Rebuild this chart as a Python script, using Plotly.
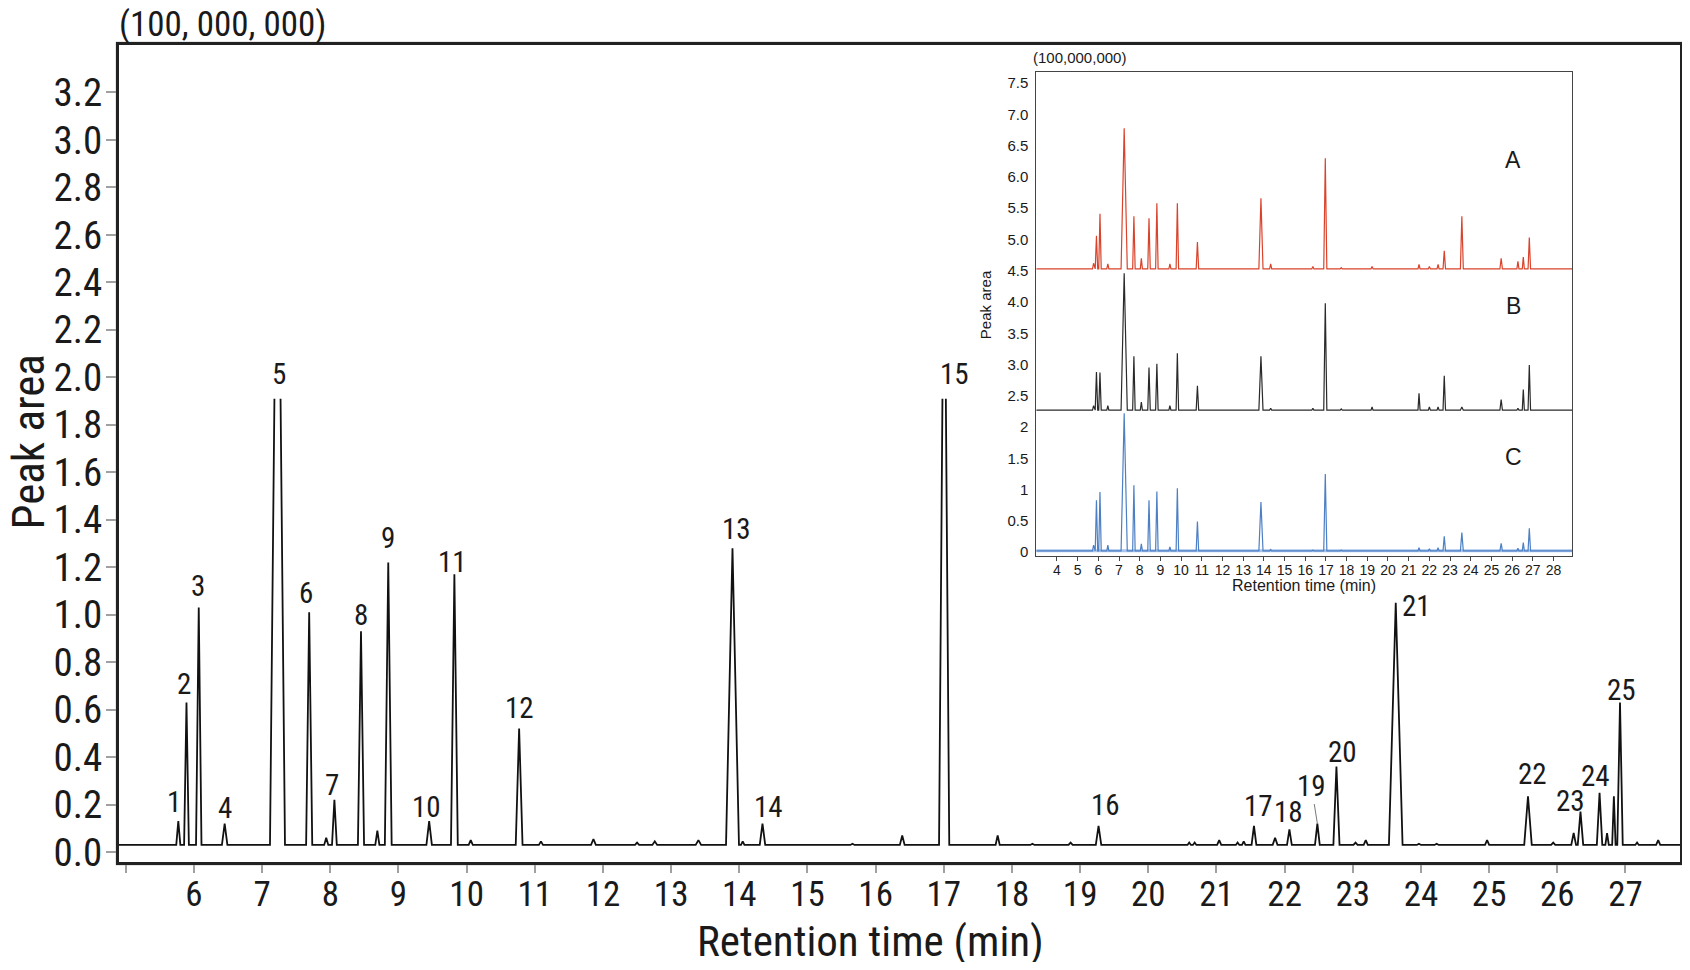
import plotly.graph_objects as go

# main chromatogram: peaks (retention time, apex height, base width)
peak_rt = [5.77, 5.89, 6.07, 6.45, 7.225, 7.69, 7.94, 8.06, 8.45, 8.69, 8.85, 9.45, 9.82,
           10.06, 10.77, 11.09, 11.86, 12.50, 12.76, 13.40, 13.90, 14.05, 14.34, 15.66,
           16.39, 17.005, 17.79, 18.30, 18.86, 19.27, 20.60, 20.68, 21.04, 21.31, 21.40,
           21.55, 21.86, 22.07, 22.48, 22.76, 23.04, 23.19, 23.63, 23.97, 24.23, 24.97,
           25.57, 25.94, 26.24, 26.34, 26.62, 26.73, 26.83, 26.92, 27.17, 27.48]
peak_height = [0.13, 0.63, 1.03, 0.12, 1.91, 1.01, 0.06, 0.22, 0.93, 0.09, 1.22, 0.13, 1.17,
               0.05, 0.52, 0.045, 0.055, 0.04, 0.045, 0.05, 1.28, 0.045, 0.12, 0.035,
               0.07, 1.91, 0.07, 0.035, 0.04, 0.11, 0.04, 0.04, 0.05, 0.04, 0.045,
               0.11, 0.06, 0.095, 0.12, 0.36, 0.04, 0.05, 1.05, 0.035, 0.035, 0.05,
               0.235, 0.04, 0.08, 0.17, 0.25, 0.08, 0.235, 0.63, 0.04, 0.05]
peak_width = [0.06, 0.07, 0.08, 0.08, 0.22, 0.09, 0.06, 0.07, 0.09, 0.06, 0.10, 0.08, 0.10,
              0.06, 0.10, 0.06, 0.07, 0.06, 0.07, 0.08, 0.19, 0.05, 0.08, 0.06,
              0.07, 0.15, 0.06, 0.06, 0.06, 0.08, 0.05, 0.05, 0.06, 0.05, 0.05,
              0.07, 0.07, 0.07, 0.07, 0.09, 0.06, 0.06, 0.20, 0.06, 0.06, 0.06,
              0.11, 0.06, 0.07, 0.08, 0.08, 0.05, 0.05, 0.08, 0.05, 0.06]
peak_no = [1, 2, 3, 4, 5, 6, 0, 7, 8, 0, 9, 10, 11,
           0, 12, 0, 0, 0, 0, 0, 13, 0, 14, 0,
           0, 15, 0, 0, 0, 16, 0, 0, 0, 0, 0,
           17, 0, 18, 19, 20, 0, 0, 21, 0, 0, 0,
           22, 0, 0, 23, 24, 0, 0, 25, 0, 0]
# saturated peaks whose tops are cut off, with the width left open at the top
clipped_top = {5: 0.09, 15: 0.05}
baseline = 0.03
run_start, run_end = 4.9, 27.8

y_ticks = [0.0, 0.2, 0.4, 0.6, 0.8, 1.0, 1.2, 1.4, 1.6, 1.8, 2.0, 2.2, 2.4, 2.6, 2.8, 3.0, 3.2]
x_ticks = list(range(5, 28))

# inset: three samples A, B, C stacked on one axis
ins_rt = [5.77, 5.91, 6.08, 6.46, 7.25, 7.72, 8.08, 8.45, 8.83, 9.46, 9.82, 10.79, 13.86,
          14.33, 16.37, 16.97, 17.74, 19.23, 21.50, 22.00, 22.42, 22.72, 23.57, 25.47,
          26.28, 26.54, 26.83]
ins_width = [0.10, 0.12, 0.12, 0.10, 0.30, 0.12, 0.10, 0.12, 0.12, 0.10, 0.12, 0.12, 0.20,
             0.10, 0.10, 0.15, 0.10, 0.10, 0.10, 0.10, 0.10, 0.12, 0.14, 0.12,
             0.10, 0.10, 0.12]
a_height = [4.62, 5.06, 5.41, 4.61, 6.78, 5.37, 4.70, 5.34, 5.58, 4.61, 5.58, 4.96, 5.66,
            4.61, 4.57, 6.30, 4.55, 4.57, 4.60, 4.57, 4.60, 4.82, 5.37, 4.70,
            4.65, 4.72, 5.03]
b_height = [2.34, 2.88, 2.87, 2.34, 4.46, 3.13, 2.40, 2.95, 3.01, 2.34, 3.18, 2.66, 3.13,
            2.30, 2.30, 3.98, 2.29, 2.32, 2.54, 2.32, 2.32, 2.82, 2.32, 2.44,
            2.30, 2.60, 2.99]
c_height = [0.11, 0.83, 0.96, 0.11, 2.22, 1.07, 0.13, 0.83, 0.97, 0.08, 1.02, 0.49, 0.80,
            0.04, 0.03, 1.25, 0.03, 0.03, 0.07, 0.05, 0.07, 0.25, 0.31, 0.14,
            0.06, 0.15, 0.38]
a_base, b_base, c_base = 4.53, 2.27, 0.02
ins_start, ins_end = 3.0, 28.9

ins_y_ticks = [0, 0.5, 1, 1.5, 2, 2.5, 3.0, 3.5, 4.0, 4.5, 5.0, 5.5, 6.0, 6.5, 7.0, 7.5]
ins_y_text = ["0", "0.5", "1", "1.5", "2", "2.5", "3.0", "3.5", "4.0", "4.5",
              "5.0", "5.5", "6.0", "6.5", "7.0", "7.5"]
ins_x_ticks = list(range(4, 29))


def chromatogram(rts, heights, widths, base, start, end, nos=None, clipped=None):
    # one polyline: baseline, then each peak as foot - apex - foot
    xs, ys = [start], [base]
    for i, (rt, h, w) in enumerate(zip(rts, heights, widths)):
        no = nos[i] if nos else 0
        if clipped and no in clipped:
            tw = clipped[no]
            xs += [rt - w / 2, rt - tw / 2, None, rt + tw / 2, rt + w / 2]
            ys += [base, h, None, h, base]
        else:
            xs += [rt - w / 2, rt, rt + w / 2]
            ys += [base, h, base]
    xs.append(end)
    ys.append(base)
    return xs, ys


NARROW = "Roboto Condensed, Liberation Sans Narrow, Arial Narrow, sans-serif"
REG = "Liberation Sans, Arial, sans-serif"
INK = "#1a1a1a"

fig = go.Figure()

mx, my = chromatogram(peak_rt, peak_height, peak_width, baseline, run_start, run_end,
                      peak_no, clipped_top)
fig.add_trace(go.Scatter(x=mx, y=my, mode="lines", line=dict(color="#111111", width=1.8),
                         showlegend=False, hoverinfo="skip"))

# inset traces
for heights, base, color in [(a_height, a_base, "#d9432b"),
                             (b_height, b_base, "#2a2a2a"),
                             (c_height, c_base, "#4d7fc4")]:
    if base == c_base:
        fig.add_trace(go.Scatter(x=[ins_start, ins_end], y=[base, base], mode="lines",
                                 line=dict(color="#a9c5ea", width=3), xaxis="x2", yaxis="y2",
                                 showlegend=False, hoverinfo="skip"))
    ix, iy = chromatogram(ins_rt, heights, ins_width, base, ins_start, ins_end)
    fig.add_trace(go.Scatter(x=ix, y=iy, mode="lines", line=dict(color=color, width=1.2),
                             xaxis="x2", yaxis="y2", showlegend=False, hoverinfo="skip"))

# peak number labels (pixel offsets from the apex)
label_offset = {1: (-4, 19), 2: (-2, 18), 3: (-1, 22), 4: (0, 16), 5: (2, 25), 6: (-3, 19),
                7: (-2, 15), 8: (0, 16), 9: (0, 24), 10: (-3, 14), 11: (-2, 12), 12: (0, 21),
                13: (4, 19), 14: (6, 17), 15: (10, 25), 16: (7, 21), 17: (5, 20),
                18: (-1, 17), 20: (6, 15), 21: (21, -3), 22: (5, 22), 23: (-10, 11),
                24: (-4, 17), 25: (1, 12)}
for rt, h, no in zip(peak_rt, peak_height, peak_no):
    if no == 0:
        continue
    if no == 19:
        fig.add_annotation(x=rt, y=h, text=str(no), showarrow=True, ax=-6, ay=-38,
                           arrowhead=0, arrowwidth=0.8, arrowcolor="#555555",
                           font=dict(family=NARROW, size=29, color=INK))
        continue
    dx, dy = label_offset[no]
    fig.add_annotation(x=rt, y=h, text=str(no), showarrow=False, xshift=dx, yshift=dy,
                       font=dict(family=NARROW, size=29, color=INK))

# titles and units
fig.add_annotation(xref="paper", yref="paper", x=-0.0013, y=1.0245, xanchor="left",
                   yanchor="middle", text="(100, 000, 000)", showarrow=False,
                   font=dict(family=NARROW, size=35, color=INK))
fig.add_annotation(xref="paper", yref="paper", x=-0.058, y=0.514, xanchor="center",
                   yanchor="middle", textangle=-90, text="Peak area", showarrow=False,
                   font=dict(family=NARROW, size=45, color=INK))
fig.add_annotation(xref="paper", yref="paper", x=0.4815, y=-0.097, xanchor="center",
                   yanchor="middle", text="Retention time (min)", showarrow=False,
                   font=dict(family=NARROW, size=43, color=INK))

fig.add_annotation(xref="x2 domain", yref="y2 domain", x=-0.0093, y=1.029, xanchor="left",
                   yanchor="middle", text="(100,000,000)", showarrow=False,
                   font=dict(family=REG, size=15, color=INK))
fig.add_annotation(xref="x2 domain", yref="y2 domain", x=-0.095, y=0.519, xanchor="center",
                   yanchor="middle", textangle=-90, text="Peak area", showarrow=False,
                   font=dict(family=REG, size=15, color=INK))
fig.add_annotation(xref="x2 domain", yref="y2 domain", x=0.5, y=-0.06, xanchor="center",
                   yanchor="middle", text="Retention time (min)", showarrow=False,
                   font=dict(family=REG, size=16, color=INK))
for name, yy in [("A", 0.818), ("B", 0.5165), ("C", 0.2045)]:
    fig.add_annotation(xref="x2 domain", yref="y2 domain", x=0.89, y=yy, xanchor="center",
                       yanchor="middle", text=name, showarrow=False,
                       font=dict(family=REG, size=23, color=INK))

# grey shadow round the thick frame
fig.add_shape(type="rect", xref="paper", yref="paper", x0=-0.0016, x1=1.0016, y0=-0.003,
              y1=1.003, line=dict(color="#9a9a9a", width=1.5), layer="below")

# the page body keeps its 8px margin, so the figure is sized to end at the window edge
fig.update_layout(
    width=1680, height=954, autosize=False,
    margin=dict(l=111, r=5, t=37, b=100),
    paper_bgcolor="white", plot_bgcolor="white",
    xaxis=dict(range=[4.9, 27.8], tickvals=x_ticks,
               ticktext=[""] + [str(v) for v in x_ticks[1:]],
               ticks="outside", ticklen=8, tickwidth=1.5, tickcolor="#a0a0a0",
               showline=True, linewidth=3, linecolor="#222222", mirror=True,
               showgrid=False, zeroline=False, ticklabelstandoff=-9,
               tickfont=dict(family=NARROW, size=35, color=INK)),
    yaxis=dict(range=[-0.042, 3.40], tickvals=y_ticks, ticktext=[f"{v:.1f}" for v in y_ticks],
               ticks="outside", ticklen=10, tickwidth=1.5, tickcolor="#a0a0a0",
               showline=True, linewidth=3, linecolor="#222222", mirror=True,
               showgrid=False, zeroline=False, ticklabelstandoff=-4,
               tickfont=dict(family=NARROW, size=39, color=INK)),
    xaxis2=dict(domain=[0.5876, 0.9309], anchor="y2", range=[ins_start, ins_end],
                tickvals=ins_x_ticks, ticks="outside", ticklen=4, tickwidth=1,
                tickcolor="#444444", showline=True, linewidth=1, linecolor="#444444",
                mirror=True, showgrid=False, zeroline=False, ticklabelstandoff=-3,
                tickfont=dict(family=REG, size=14, color=INK)),
    yaxis2=dict(domain=[0.3745, 0.967], anchor="x2", range=[-0.064, 7.68],
                tickvals=ins_y_ticks, ticktext=ins_y_text, ticks="",
                showline=True, linewidth=1, linecolor="#444444", mirror=True,
                showgrid=False, zeroline=False, ticklabelstandoff=4,
                tickfont=dict(family=REG, size=15, color=INK)),
)

fig.write_html("out.html")
